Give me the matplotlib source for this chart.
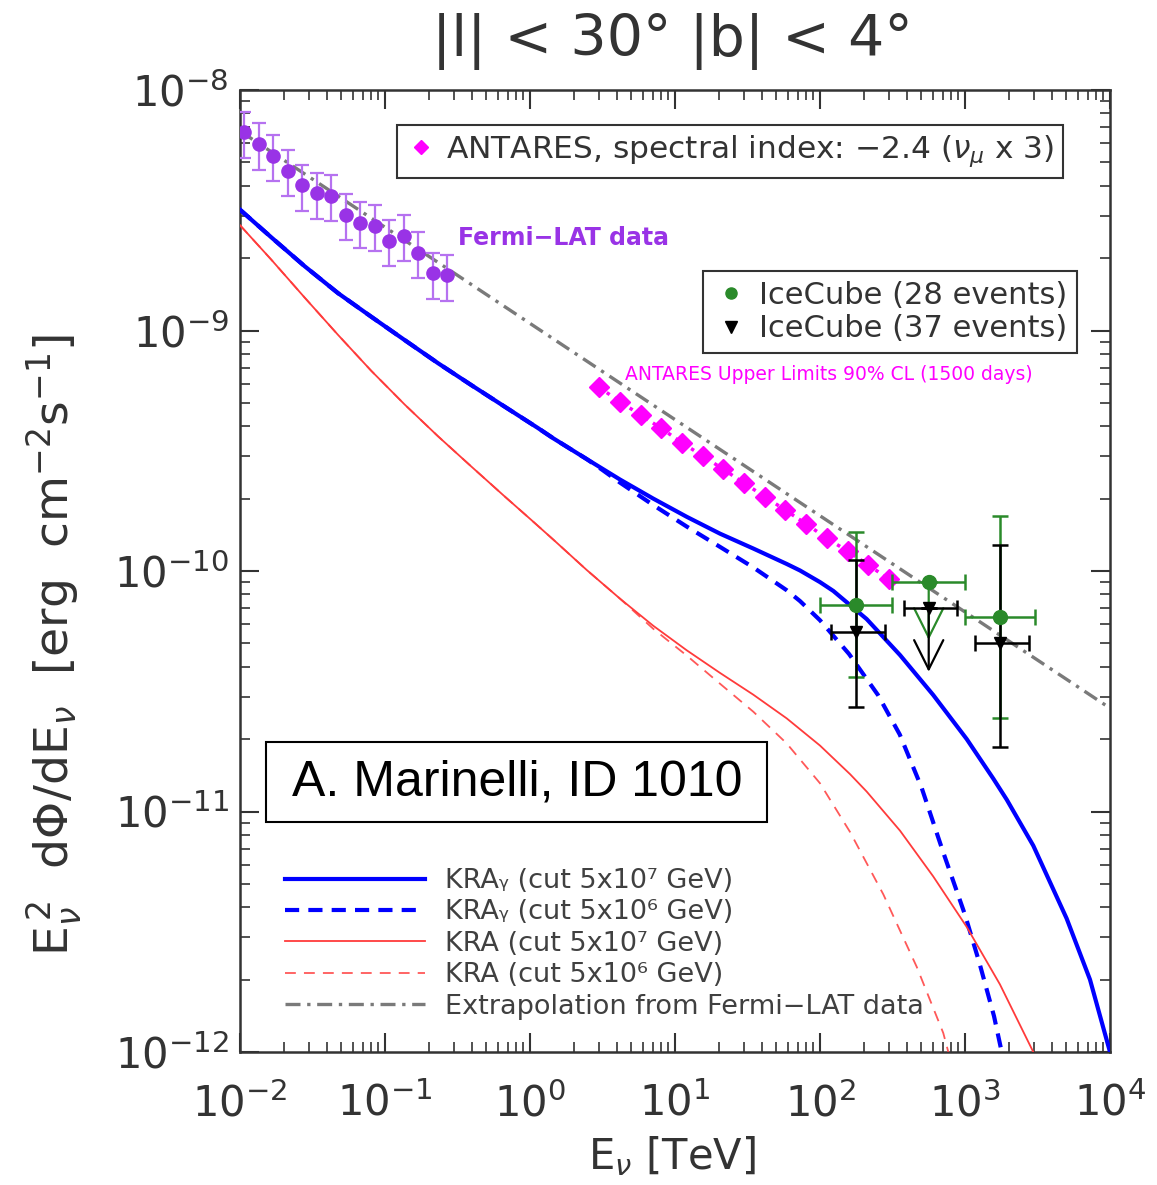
"""
Galactic ridge neutrino flux, |l|<30 |b|<4 : KRA models vs Fermi-LAT, ANTARES, IceCube
"""
import matplotlib
matplotlib.use('Agg')
import matplotlib.pyplot as plt
from matplotlib.lines import Line2D
from matplotlib.patches import Rectangle
from matplotlib.ticker import LogLocator, NullFormatter

# ============ data (E in TeV, flux in erg cm^-2 s^-1) ============
fermi_E = [0.0107, 0.0135, 0.0170, 0.0214, 0.0269, 0.0339, 0.0427, 0.0537,
           0.0676, 0.0851, 0.107, 0.135, 0.170, 0.214, 0.269]
fermi_F = [6.67e-9, 5.96e-9, 5.32e-9, 4.62e-9, 4.02e-9, 3.72e-9, 3.64e-9, 3.03e-9,
           2.81e-9, 2.73e-9, 2.36e-9, 2.48e-9, 2.11e-9, 1.73e-9, 1.70e-9]
fermi_err = [1.45e-9, 1.30e-9, 1.15e-9, 1.00e-9, 0.87e-9, 0.80e-9, 0.78e-9, 0.66e-9,
             0.61e-9, 0.59e-9, 0.51e-9, 0.54e-9, 0.46e-9, 0.38e-9, 0.37e-9]

# extrapolation of the Fermi-LAT spectrum (index -2.4)
extrap_E = [0.01, 1e4]
extrap_F = [6.75e-9, 2.69e-11]

# KRA_gamma, cut 5x10^7 GeV
kg7_E = [0.01, 0.01644, 0.02793, 0.04742, 0.08054, 0.1368, 0.2323, 0.3936, 0.6699,
         1.135, 1.449, 2.460, 4.178, 7.079, 12.05, 20.42, 34.67, 58.88, 72.78, 100,
         123.6, 209.9, 356.5, 603.9, 1028, 1567, 1941, 2958, 5023, 7278, 10000]
kg7_F = [3.18e-9, 2.44e-9, 1.85e-9, 1.43e-9, 1.14e-9, 9.12e-10, 7.31e-10, 5.93e-10,
         4.82e-10, 3.93e-10, 3.56e-10, 2.92e-10, 2.40e-10, 2.00e-10, 1.68e-10, 1.43e-10,
         1.24e-10, 1.07e-10, 1.005e-10, 8.99e-11, 8.26e-11, 6.31e-11, 4.47e-11, 3.05e-11,
         2.00e-11, 1.37e-11, 1.12e-11, 7.21e-12, 3.59e-12, 2.00e-12, 1.0e-12]

# KRA_gamma, cut 5x10^6 GeV
kg6_E = [0.01, 0.01644, 0.02793, 0.04742, 0.08054, 0.1368, 0.2323, 0.3936, 0.6699,
         1.135, 1.449, 2.460, 3.162, 4.178, 7.079, 12.05, 20.42, 34.67, 58.88, 72.78,
         100, 158.5, 251.2, 354.8, 501.2, 707.9, 1000, 1259, 1585, 1791]
kg6_F = [3.18e-9, 2.44e-9, 1.85e-9, 1.43e-9, 1.14e-9, 9.12e-10, 7.31e-10, 5.93e-10,
         4.82e-10, 3.93e-10, 3.56e-10, 2.92e-10, 2.63e-10, 2.33e-10, 1.88e-10, 1.53e-10,
         1.26e-10, 1.035e-10, 8.32e-11, 7.50e-11, 6.24e-11, 4.52e-11, 3.05e-11, 2.09e-11,
         1.26e-11, 6.76e-12, 3.72e-12, 2.34e-12, 1.41e-12, 1.0e-12]

# KRA, cut 5x10^7 GeV
k7_E = [0.01, 0.01644, 0.02793, 0.04742, 0.08054, 0.1368, 0.2323, 0.3936, 0.6699,
        1.021, 1.449, 2.460, 4.178, 7.079, 12.05, 20.42, 34.67, 58.88, 100, 161.1,
        209.9, 356.5, 603.9, 1028, 1742, 2958]
k7_F = [2.74e-9, 1.97e-9, 1.37e-9, 9.59e-10, 6.79e-10, 4.92e-10, 3.63e-10, 2.72e-10,
        2.04e-10, 1.63e-10, 1.35e-10, 1.01e-10, 7.67e-11, 5.92e-11, 4.68e-11, 3.77e-11,
        3.06e-11, 2.44e-11, 1.88e-11, 1.43e-11, 1.21e-11, 8.32e-12, 5.37e-12, 3.31e-12,
        1.91e-12, 1.0e-12]

# KRA, cut 5x10^6 GeV
k6_E = [0.01, 0.01644, 0.02793, 0.04742, 0.08054, 0.1368, 0.2323, 0.3936, 0.6699,
        1.021, 1.449, 2.460, 4.178, 7.079, 12.05, 20.42, 34.67, 58.88, 100, 161.1,
        273.5, 464.5, 707.9, 767.4]
k6_F = [2.74e-9, 1.97e-9, 1.37e-9, 9.59e-10, 6.79e-10, 4.92e-10, 3.63e-10, 2.72e-10,
        2.04e-10, 1.63e-10, 1.35e-10, 1.01e-10, 7.67e-11, 5.75e-11, 4.45e-11, 3.40e-11,
        2.60e-11, 1.92e-11, 1.31e-11, 8.22e-12, 4.52e-12, 2.26e-12, 1.20e-12, 1.0e-12]

# ANTARES upper limits 90% CL (1500 days)
ant_E = [3.00, 4.17, 5.79, 8.04, 11.2, 15.5, 21.5, 29.9, 41.6, 57.7, 80.2, 111, 155, 215, 300]
ant_F = [5.80e-10, 5.06e-10, 4.45e-10, 3.92e-10, 3.41e-10, 3.01e-10, 2.65e-10, 2.32e-10,
         2.04e-10, 1.79e-10, 1.57e-10, 1.37e-10, 1.21e-10, 1.06e-10, 9.23e-11]

# IceCube (28 events) - middle point is an upper limit
ic28_E = [177, 562, 1740]
ic28_Elo = [100, 316, 1000]
ic28_Ehi = [316, 1000, 3040]
ic28_F = [7.23e-11, 9.03e-11, 6.46e-11]
ic28_Flo = [3.61e-11, 9.03e-11, 2.44e-11]
ic28_Fhi = [1.45e-10, 9.03e-11, 1.70e-10]
ic28_ul = [1, 5.17e-11]   # (index, arrow tip)

# IceCube (37 events)
ic37_E = [177, 562, 1740]
ic37_Elo = [120, 379, 1172]
ic37_Ehi = [281, 885, 2773]
ic37_F = [5.60e-11, 7.00e-11, 5.00e-11]
ic37_Flo = [2.73e-11, 7.00e-11, 1.86e-11]
ic37_Fhi = [1.11e-10, 7.00e-11, 1.28e-10]
ic37_ul = [1, 3.81e-11]

x_ticks = [1e-2, 1e-1, 1e0, 1e1, 1e2, 1e3, 1e4]
y_ticks = [1e-12, 1e-11, 1e-10, 1e-9, 1e-8]

model_labels = ['KRAᵧ (cut 5x10⁷ GeV)', 'KRAᵧ (cut 5x10⁶ GeV)',
                'KRA (cut 5x10⁷ GeV)', 'KRA (cut 5x10⁶ GeV)',
                'Extrapolation from Fermi−LAT data']

# ============ colours ============
BLUE = '#0000ff'
RED = '#ff3b3b'
GREY = '#7a7a7a'
PURPLE = '#9933e6'
PURPLE_ERR = '#b672f0'
MAGENTA = '#ff00ff'
GREEN = '#2a8a2a'
TXT = '#333333'

plt.rcParams['font.family'] = ['DejaVu Sans']

fig = plt.figure(figsize=(11.57, 11.85), dpi=100)
ax = fig.add_axes([240 / 1157, 1 - 1052 / 1185, 870 / 1157, 962 / 1185])
ax.set_xscale('log')
ax.set_yscale('log')

# model curves
l_kg7, = ax.plot(kg7_E, kg7_F, color=BLUE, lw=3.0, zorder=3)
l_kg6, = ax.plot(kg6_E, kg6_F, color=BLUE, lw=3.0, ls=(0, (3.4, 2.2)), zorder=3)
l_k7, = ax.plot(k7_E, k7_F, color=RED, lw=1.3, zorder=3)
l_k6, = ax.plot(k6_E, k6_F, color=RED, lw=1.3, ls=(0, (6, 4.5)), alpha=0.85, zorder=3)
l_ex, = ax.plot(extrap_E, extrap_F, color=GREY, lw=2.4, ls=(0, (4.5, 2, 1, 2)), zorder=2)

# Fermi-LAT
ax.errorbar(fermi_E, fermi_F, yerr=fermi_err, fmt='o', color=PURPLE, ms=9.5,
            ecolor=PURPLE_ERR, elinewidth=1.6, capsize=5, capthick=1.6, zorder=5)
ax.text(0.318, 2.43e-9, 'Fermi−LAT data', color=PURPLE, fontsize=17,
        fontweight='bold', va='center', ha='left')

# ANTARES
ax.plot(ant_E, ant_F, color=MAGENTA, lw=2.5, ls=':', marker='D', ms=10.5, zorder=4)
ax.text(4.52, 6.59e-10, 'ANTARES Upper Limits 90% CL (1500 days)', color=MAGENTA,
        fontsize=13.5, va='center', ha='left')

# IceCube
xerr28 = [[e - lo for e, lo in zip(ic28_E, ic28_Elo)], [hi - e for e, hi in zip(ic28_E, ic28_Ehi)]]
yerr28 = [[f - lo for f, lo in zip(ic28_F, ic28_Flo)], [hi - f for f, hi in zip(ic28_F, ic28_Fhi)]]
xerr37 = [[e - lo for e, lo in zip(ic37_E, ic37_Elo)], [hi - e for e, hi in zip(ic37_E, ic37_Ehi)]]
yerr37 = [[f - lo for f, lo in zip(ic37_F, ic37_Flo)], [hi - f for f, hi in zip(ic37_F, ic37_Fhi)]]

ax.errorbar(ic28_E, ic28_F, xerr=xerr28, yerr=yerr28, fmt='none', ecolor=GREEN,
            elinewidth=1.8, capsize=6, capthick=1.8, zorder=6)
ax.errorbar(ic37_E, ic37_F, xerr=xerr37, yerr=yerr37, fmt='v', color='black', ms=9,
            ecolor='black', elinewidth=1.8, capsize=6, capthick=1.8, zorder=7)
ax.plot(ic28_E, ic28_F, 'o', color=GREEN, ms=10, zorder=8)

arrow_style = '->,head_length=0.7,head_width=0.35'
i = ic28_ul[0]
ax.annotate('', xy=(ic28_E[i], ic28_ul[1]), xytext=(ic28_E[i], ic28_F[i]),
            arrowprops=dict(arrowstyle=arrow_style, color=GREEN, lw=1.6,
                            shrinkA=0, shrinkB=0, mutation_scale=30), zorder=6)
i = ic37_ul[0]
ax.annotate('', xy=(ic37_E[i], ic37_ul[1]), xytext=(ic37_E[i], ic37_F[i]),
            arrowprops=dict(arrowstyle=arrow_style, color='black', lw=1.6,
                            shrinkA=0, shrinkB=0, mutation_scale=30), zorder=7)

# ============ axes styling ============
ax.set_xticks(x_ticks)
ax.set_yticks(y_ticks)
ax.xaxis.set_minor_locator(LogLocator(base=10, subs=(2, 3, 4, 5, 6, 7, 8, 9), numticks=20))
ax.yaxis.set_minor_locator(LogLocator(base=10, subs=(2, 3, 4, 5, 6, 7, 8, 9), numticks=20))
ax.xaxis.set_minor_formatter(NullFormatter())
ax.yaxis.set_minor_formatter(NullFormatter())
ax.set_xlim(1e-2, 1e4)
ax.set_ylim(1e-12, 1e-8)
ax.tick_params(which='both', direction='in', top=True, right=True, colors=TXT)
ax.tick_params(which='major', length=13.5, width=1.5, labelsize=30)
ax.tick_params(which='minor', length=7.5, width=1.2)
ax.tick_params(axis='x', which='major', pad=22)
ax.tick_params(axis='y', which='major', pad=8)
for s in ax.spines.values():
    s.set_color(TXT)
    s.set_linewidth(1.8)

fig.text(672 / 1157, 1 - 42 / 1185, '|l| < 30° |b| < 4°', ha='center', va='center',
         fontsize=41, color=TXT)
fig.text(672 / 1157, 1 - 1156 / 1185, r'E$_\nu$ [TeV]', ha='center', va='center',
         fontsize=30, color=TXT)
fig.text(54 / 1157, 1 - 645 / 1185,
         r'E$_\nu^{\,2}$  d$\Phi$/dE$_\nu$  [erg  cm$^{-2}$s$^{-1}$]',
         rotation=90, ha='center', va='center', fontsize=34, color=TXT)

# ============ legends ============
leg_ant = ax.legend(handles=[Line2D([], [], ls='none', marker='D', color=MAGENTA, ms=7)],
                    labels=[r'ANTARES, spectral index: $-$2.4 ($\nu_\mu$ x 3)'],
                    loc='upper left', bbox_to_anchor=(397 / 1157, 1 - 125 / 1185),
                    bbox_transform=fig.transFigure, fontsize=22.5, frameon=True,
                    fancybox=False, edgecolor=TXT, framealpha=1, borderpad=0.28,
                    handlelength=1.0, handletextpad=0.3, borderaxespad=0, labelcolor=TXT)
leg_ant.get_frame().set_linewidth(1.5)
ax.add_artist(leg_ant)

leg_ic = ax.legend(handles=[Line2D([], [], ls='none', marker='o', color=GREEN, ms=8),
                            Line2D([], [], ls='none', marker='v', color='black', ms=8)],
                   labels=['IceCube (28 events)', 'IceCube (37 events)'],
                   loc='upper left', bbox_to_anchor=(703 / 1157, 1 - 271 / 1185),
                   bbox_transform=fig.transFigure, fontsize=22, frameon=True,
                   fancybox=False, edgecolor=TXT, framealpha=1, borderpad=0.32,
                   handlelength=1.2, handletextpad=0.3, labelspacing=0.15,
                   borderaxespad=0, labelcolor=TXT)
leg_ic.get_frame().set_linewidth(1.5)
ax.add_artist(leg_ic)

leg_mod = ax.legend(handles=[l_kg7, l_kg6, l_k7, l_k6, l_ex], labels=model_labels,
                    loc='upper left', bbox_to_anchor=(285 / 1157, 1 - 868 / 1185),
                    bbox_transform=fig.transFigure, fontsize=19.5, frameon=False,
                    handlelength=5.17, handletextpad=0.74, labelspacing=0.2,
                    borderaxespad=0, borderpad=0, labelcolor='#404040')

# author box
fig.add_artist(Rectangle((266 / 1157, 1 - 822 / 1185), 501 / 1157, 80 / 1185,
                         transform=fig.transFigure, fc='white', ec='black', lw=1.5,
                         zorder=9))
fig.text(517 / 1157, 1 - 782 / 1185, 'A. Marinelli, ID 1010', ha='center', va='center',
         fontsize=36, family='Liberation Sans', color='black', zorder=10)

fig.savefig('out.png', dpi=100)
plt.close(fig)
